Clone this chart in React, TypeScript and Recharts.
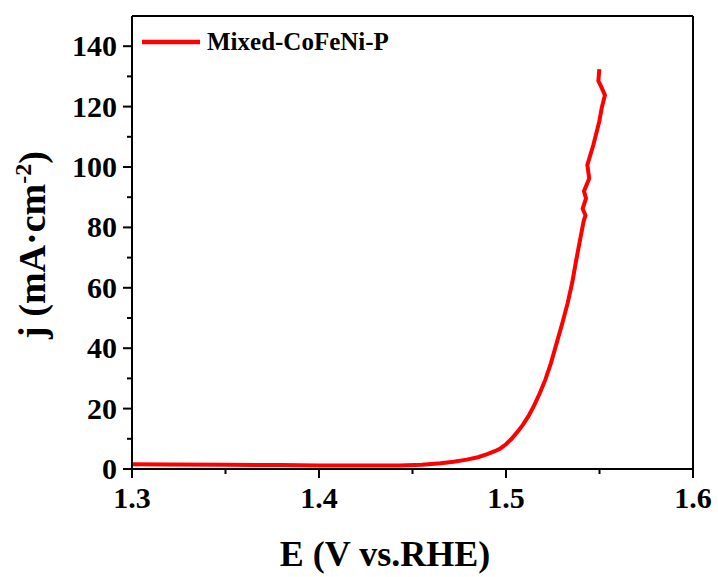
import React from "react";
import { LineChart, Line, XAxis, YAxis, ReferenceLine, Legend } from "recharts";

const potential = [
  1.3, 1.32, 1.35, 1.38, 1.4, 1.42, 1.443, 1.455, 1.465, 1.472, 1.479, 1.485, 1.49, 1.494,
  1.497, 1.5, 1.503, 1.506, 1.509, 1.512, 1.515, 1.518, 1.521, 1.524, 1.527, 1.53, 1.533,
  1.5355, 1.5375, 1.5395, 1.5415, 1.5425, 1.541, 1.5428, 1.5417, 1.5445, 1.5435, 1.5467,
  1.5499, 1.5512, 1.5529, 1.5512, 1.5494, 1.5499,
];
const current = [
  1.6, 1.5, 1.4, 1.3, 1.2, 1.2, 1.2, 1.4, 1.9, 2.4, 3.1, 3.9, 4.9, 5.9,
  6.8, 8.2, 10, 12.2, 14.6, 17.5, 21, 25, 29.5, 35, 41.5, 48, 55,
  62, 69, 75.5, 82, 84, 86.2, 89.6, 92, 96.2, 100.7, 107.3,
  115.1, 119.6, 123.8, 126.2, 128.5, 132.4,
];
const xTicks = [1.3, 1.35, 1.4, 1.45, 1.5, 1.55, 1.6];
const yTicks = [0, 10, 20, 30, 40, 50, 60, 70, 80, 90, 100, 110, 120, 130, 140, 150];
const seriesName = "Mixed-CoFeNi-P";

const data = potential.map((e, i) => ({ e, j: current[i] }));

const FONT = "'Times New Roman', 'Liberation Serif', serif";

const YTick = (props: any) => {
  const { x, y, payload } = props;
  const axisX = x + 15;
  if (payload.value === 150) return null;
  const major = payload.value % 20 === 0;
  return (
    <g>
      <line x1={axisX - (major ? 9 : 5)} x2={axisX} y1={y} y2={y} stroke="#000" strokeWidth={2} />
      {major && (
        <text x={x} y={y} dy={10} textAnchor="end" fontFamily={FONT} fontWeight="bold" fontSize={30} fill="#000">
          {payload.value}
        </text>
      )}
    </g>
  );
};

const XTick = (props: any) => {
  const { x, y, payload } = props;
  const axisY = y - 15;
  const v = Math.round(payload.value * 100);
  const major = v % 10 === 0;
  return (
    <g>
      <line x1={x} x2={x} y1={axisY} y2={axisY + (major ? 9 : 5)} stroke="#000" strokeWidth={2} />
      {major && (
        <text x={x} y={axisY + 39} textAnchor="middle" fontFamily={FONT} fontWeight="bold" fontSize={30} fill="#000">
          {payload.value.toFixed(1)}
        </text>
      )}
    </g>
  );
};

const LegendBox = () => (
  <div style={{ display: "flex", alignItems: "center", height: 24, whiteSpace: "nowrap" }}>
    <svg width={60} height={24}>
      <line x1={1} x2={59} y1={12} y2={12} stroke="#ff0000" strokeWidth={4.5} />
    </svg>
    <span style={{ marginLeft: 6, fontFamily: FONT, fontWeight: "bold", fontSize: 25, color: "#000" }}>
      {seriesName}
    </span>
  </div>
);

const App: React.FC = () => {
  return (
    <div style={{ position: "absolute", left: 0, top: 0 }}>
      <LineChart width={718} height={577} data={data} margin={{ top: 16, right: 25, left: 0, bottom: 0 }}>
        <XAxis
          dataKey="e"
          type="number"
          domain={[1.3, 1.6]}
          ticks={xTicks}
          allowDataOverflow
          height={108}
          tickSize={9}
          tickMargin={6}
          tickLine={false}
          tick={<XTick />}
          axisLine={{ stroke: "#000", strokeWidth: 2 }}
          label={{
            content: () => (
              <text x={385} y={566} textAnchor="middle" fontFamily={FONT} fontWeight="bold" fontSize={36} fill="#000">
                E (V vs.RHE)
              </text>
            ),
          }}
        />
        <YAxis
          type="number"
          domain={[0, 150]}
          ticks={yTicks}
          allowDataOverflow
          width={132}
          tickSize={9}
          tickMargin={6}
          tickLine={false}
          tick={<YTick />}
          axisLine={{ stroke: "#000", strokeWidth: 2 }}
          label={{
            content: () => (
              <text
                x={45}
                y={245}
                transform="rotate(-90 45 245)"
                textAnchor="middle"
                fontFamily={FONT}
                fontWeight="bold"
                fontSize={38}
                fill="#000"
              >
                j (mA·cm
                <tspan dy={-14} fontSize={24}>-2</tspan>
                <tspan dy={14}>)</tspan>
              </text>
            ),
          }}
        />
        <ReferenceLine y={150} stroke="#000" strokeWidth={2} />
        <ReferenceLine x={1.6} stroke="#000" strokeWidth={2} />
        <Legend
          layout="horizontal"
          verticalAlign="middle"
          align="center"
          content={<LegendBox />}
          wrapperStyle={{ top: 30, left: 141, width: "auto" }}
        />
        <Line
          type="linear"
          dataKey="j"
          name={seriesName}
          stroke="#ff0000"
          strokeWidth={4}
          dot={false}
          isAnimationActive={false}
        />
      </LineChart>
    </div>
  );
};

export default App;
